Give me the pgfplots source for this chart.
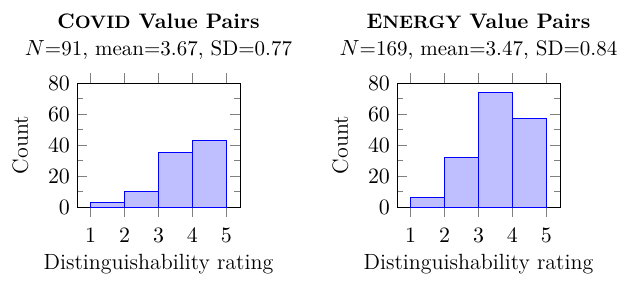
\documentclass[border=0pt]{standalone}
\usepackage{pgfplots}
\pgfplotsset{compat=1.18}
\pgfplotstableread{
x y
1 3
2 10
3 35
4 43
5 43
}\covid
\pgfplotstableread{
x y
1 6
2 32
3 74
4 57
5 57
}\energy
\pgfplotsset{
  hist/.style={
    scale only axis, width=81.5pt, height=62pt,
    xmin=0.6, xmax=5.4, ymin=0, ymax=80,
    xtick={1,2,3,4,5}, ytick={0,20,40,60,80},
    minor y tick num=1,
    xtick align=outside,
    xtick pos=both,
    ytick pos=both,
    major tick length=5pt,
    tick label style={font=\fontsize{11}{13}\selectfont},
    x tick label style={yshift=-2pt},
    label style={font=\fontsize{11}{13}\selectfont},
    xlabel={Distinguishability rating},
    ylabel={Count},
    ylabel shift=3pt,
    xlabel shift=-1pt,
    title style={align=center, yshift=2pt, font=\fontsize{10.5}{12.5}\selectfont},
  }
}
\begin{document}
\begin{tikzpicture}
\path[use as bounding box] (-38.5pt,-37pt) rectangle (275pt,103.5pt);
\begin{axis}[hist,
  title={\textbf{C{\small OVID} Value Pairs}\\[1pt]$N$=91, mean=3.67, SD=0.77}]
\addplot[ybar interval, draw=blue, fill=blue!25] table[x=x,y=y] {\covid};
\end{axis}
\begin{axis}[hist, xshift=160pt,
  title={\textbf{E{\small NERGY} Value Pairs}\\[1pt]$N$=169, mean=3.47, SD=0.84}]
\addplot[ybar interval, draw=blue, fill=blue!25] table[x=x,y=y] {\energy};
\end{axis}
\end{tikzpicture}
\end{document}
